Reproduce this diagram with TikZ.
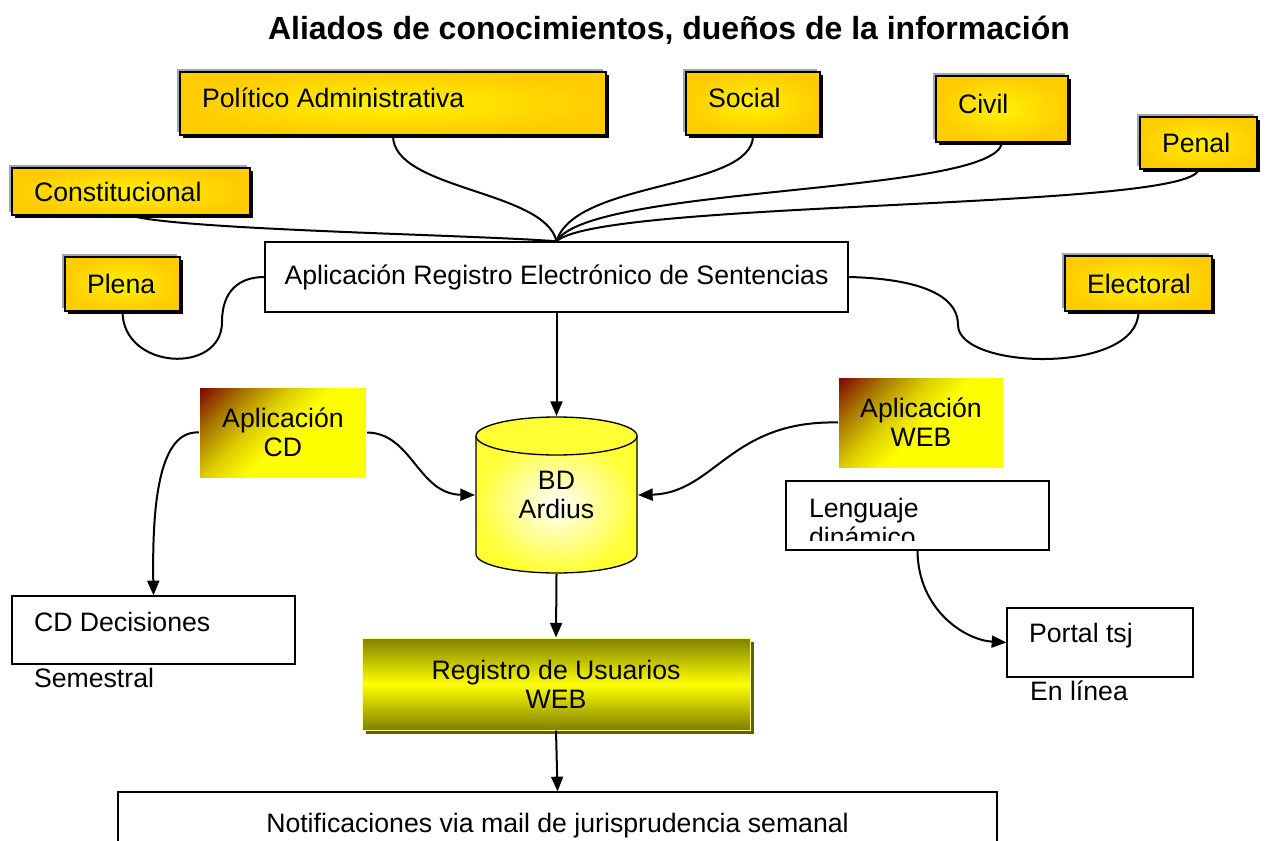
\documentclass[tikz,border=0pt]{standalone}
\usepackage{fontspec}
\setmainfont{Liberation Sans}
\usetikzlibrary{arrows.meta,shadows}

\definecolor{goldout}{RGB}{255,204,0}
\definecolor{goldin}{RGB}{255,242,0}
\definecolor{appred}{RGB}{128,0,0}
\definecolor{appolive}{RGB}{165,115,0}
\definecolor{applight}{RGB}{220,205,0}
\definecolor{appyellow}{RGB}{255,255,0}
\definecolor{regolive}{RGB}{128,128,0}
\definecolor{regshadow}{RGB}{96,96,0}
\definecolor{regedge}{RGB}{255,255,153}
\definecolor{dbyellow}{RGB}{255,255,51}

\pgfdeclarehorizontalshading{appgrad}{100bp}{color(0bp)=(appred); color(14bp)=(appred); color(27bp)=(appolive); color(40bp)=(applight); color(52bp)=(appyellow); color(100bp)=(appyellow)}

\newcommand{\boxfont}{\fontsize{20}{22}\selectfont}
\newcommand{\titlefont}{\fontsize{24}{28}\selectfont\bfseries}

\tikzset{every picture/.style={line width=1.5pt}}

\begin{document}
\begin{tikzpicture}[x=0.75pt,y=0.75pt,yscale=-1,xscale=1,
  goldbox/.style={draw, line width=1pt, inner color=goldin, outer color=goldout, align=flush left, inner xsep=16.5pt, inner ysep=0pt, font=\boxfont,
    general shadow={fill=gray!70, shadow xshift=-2pt, shadow yshift=2pt},
    general shadow={fill=black, shadow xshift=2.5pt, shadow yshift=-2.5pt}},
  plainbox/.style={draw, line width=1pt, fill=white, align=flush left, inner xsep=16.5pt, inner ysep=0pt, font=\boxfont},
  appbox/.style={shade, shading=appgrad, shading angle=-45, align=center, font=\boxfont, minimum width=#1, minimum height=66.75pt},
  link/.style={line width=1.5pt},
  arrow/.style={line width=1.5pt, -{Triangle[length=11pt,width=9pt]}},
  ]
\useasboundingbox (0,0) rectangle (1276,841);

% title
\node[font=\titlefont, anchor=base] (title) at (669,40) {Aliados de conocimientos, dueños de la información};

% areas
\node[goldbox, text width=286.5pt, minimum height=47.25pt, text depth=8pt] (pol) at (393,103.5) {Político Administrativa};
\node[goldbox, text width=67.5pt, minimum height=47.25pt, text depth=8pt] (soc) at (753,103.5) {Social};
\node[goldbox, text width=66pt, minimum height=49.5pt, text depth=7pt] (civ) at (1002,109) {Civil};
\node[goldbox, text width=54.75pt, minimum height=39pt] (pen) at (1198.5,143) {Penal};
\node[goldbox, text width=145.5pt, minimum height=35.25pt] (con) at (131,191.5) {Constitucional};
\node[goldbox, text width=53.25pt, minimum height=40.5pt] (ple) at (122.5,284) {Plena};
\node[goldbox, text width=77.25pt, minimum height=41.25pt] (ele) at (1138.5,283.5) {Electoral};

% registro de sentencias
\node[draw, line width=1pt, fill=white, font=\boxfont, minimum width=437.25pt, minimum height=52.5pt] (app) at (556.5,277) {Aplicación Registro Electrónico de Sentencias};

% aplicaciones
\node[appbox=124.5pt] (cd) at (283,432.5) {Aplicación\\CD};
\node[appbox=123pt] (web) at (921,422.5) {Aplicación\\WEB};

% base de datos
\path[shade, inner color=white, outer color=dbyellow] (476,436) -- (476,554) arc[start angle=180, end angle=0, x radius=80.5, y radius=19] -- (637,436) -- cycle;
\draw[line width=1pt] (476,436) -- (476,554) arc[start angle=180, end angle=0, x radius=80.5, y radius=19] -- (637,436);
\draw[line width=1pt, fill=dbyellow] (556.5,436) ellipse [x radius=80.5, y radius=19];
\node[minimum width=120.75pt, minimum height=117pt, align=center, font=\boxfont] (bd) at (556.5,495) {BD\\Ardius};

% salidas
\node[plainbox, text width=179.25pt, minimum height=51pt, text depth=12pt] (cdd) at (153.5,630) {CD Decisiones};
\node[font=\boxfont, anchor=base west, inner sep=0pt] (sem) at (33,687) {Semestral};

\node[plainbox, text width=164.25pt, minimum height=51.75pt] (leng) at (917.5,515.5) {};
\begin{scope}
\clip (787,482) rectangle (1048,540);
\node[font=\boxfont, align=flush left, anchor=north west, inner sep=0pt] (lengtxt) at (808,497) {Lenguaje\\dinámico};
\end{scope}

\node[plainbox, text width=106.5pt, minimum height=51.75pt, text depth=14pt] (por) at (1100,642.5) {Portal tsj};
\node[font=\boxfont, anchor=base west, inner sep=0pt] (lin) at (1029,700) {En línea};

\node[draw=regedge, line width=0.75pt, top color=regolive, bottom color=regolive, middle color=appyellow,
  general shadow={fill=regshadow, shadow xshift=3pt, shadow yshift=-3pt},
  minimum width=291pt, minimum height=69pt, align=center, font=\boxfont] (reg) at (556,684) {Registro de Usuarios\\WEB};

\node[draw, line width=1pt, fill=white, minimum width=659.25pt, minimum height=51pt, font=\boxfont] (notif) at (557.5,826) {Notificaciones via mail de jurisprudencia semanal};

% conexiones de las salas
\draw[link] (pol.south) .. controls (393,190) and (545,190) .. (app.north);
\draw[link] (soc.south) .. controls (753,190) and (575,180) .. (app.north);
\draw[link] (civ.south) .. controls (995,195) and (590,185) .. (app.north);
\draw[link] (pen.south) .. controls (1190,210) and (600,200) .. (app.north);
\draw[link] (con.south) .. controls (180,230) and (480,235) .. (app.north);
\draw[link] (ple.south) .. controls (123,370) and (222,375) .. (222,322) .. controls (222,290) and (240,277) .. (app.west);
\draw[link] (ele.south) .. controls (1138,375) and (958,370) .. (958,325) .. controls (958,285) and (890,278) .. (app.east);

% flujo
\draw[arrow] (app.south) -- (bd.north);
\draw[arrow] (cd.east) .. controls (412,433) and (418,494) .. (bd.west);
\draw[arrow] (web.west) .. controls (730,420) and (715,493) .. (bd.east);
\draw[arrow] (cd.west) .. controls (160,430) and (152,500) .. (cdd.north);
\draw[arrow] (bd.south) -- (reg.north);
\draw[arrow] (reg.south) -- (notif.north);
\draw[arrow] (leng.south) .. controls (918,610) and (965,640) .. (por.west);
\end{tikzpicture}
\end{document}
